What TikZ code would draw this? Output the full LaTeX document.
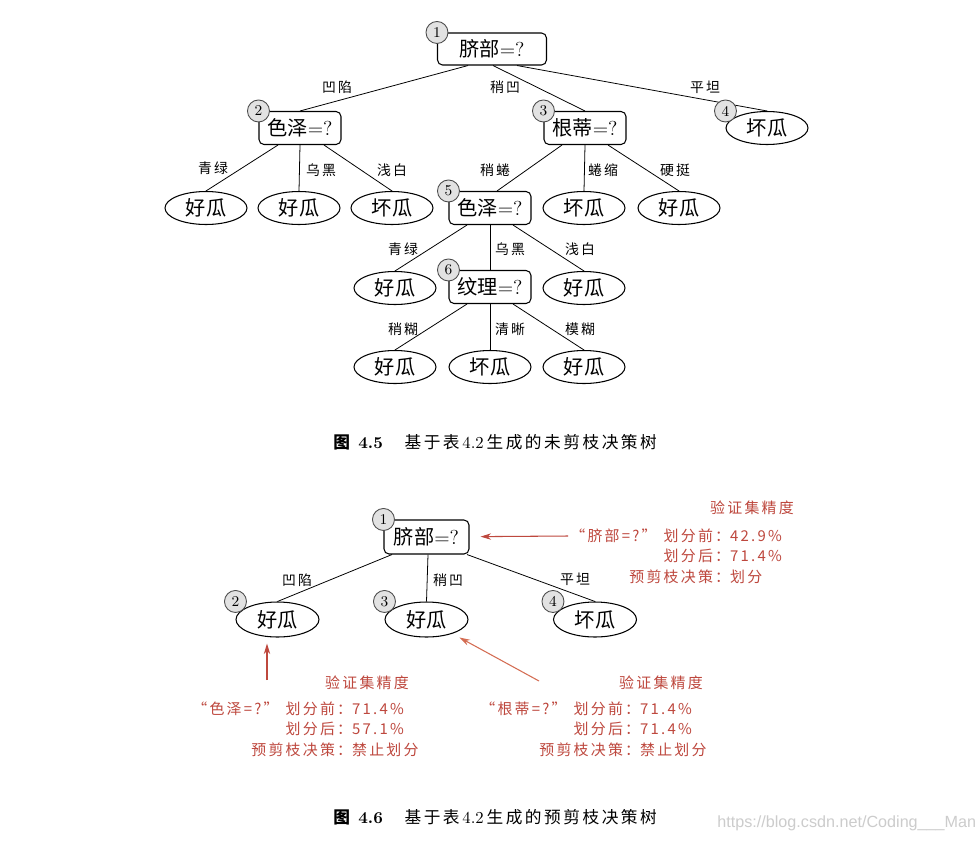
\documentclass[tikz,border=0pt]{standalone}
\usepackage{fontspec}
\newfontfamily\cjk{Noto Sans CJK SC}
\newfontfamily\cjksp[LetterSpace=15]{Noto Sans CJK SC}
\newfontfamily\wmfont{Liberation Sans}
\usepackage{tikz}
\usetikzlibrary{shapes.geometric,arrows.meta}
\definecolor{annored}{RGB}{190,72,62}
\definecolor{annoorange}{RGB}{212,108,82}
\definecolor{numgray}{RGB}{226,226,226}
\tikzset{
    test/.style = {rectangle, rounded corners=0.1cm, draw, line width=0.6pt, minimum width=1.64cm, minimum height=0.66cm, inner sep=0pt, font=\fontsize{11.5}{13}\selectfont},
    leaf/.style = {ellipse, draw, line width=0.6pt, minimum width=1.64cm, minimum height=0.66cm, inner sep=0pt, font=\fontsize{11.5}{13}\cjk},
    num/.style = {circle, draw=black!70, line width=0.5pt, fill=numgray, minimum size=0.44cm, inner sep=0pt, font=\fontsize{8.5}{10}\selectfont},
    lbl/.style = {inner sep=0pt, font=\fontsize{7.9}{9}\cjksp},
    edge/.style = {line width=0.45pt},
    anno/.style = {inner sep=0pt, text=annored, font=\fontsize{8.5}{11.8}\cjksp},
    annoarrow/.style = {draw=annored, line width=0.6pt, -{Stealth[length=6pt,width=3.6pt]}},
    caption/.style = {inner sep=0pt, anchor=west, font=\fontsize{9.5}{11}\selectfont}
}

\begin{document}
\begin{tikzpicture}[x=0.02cm, y=-0.02cm]
    \path[fill=white] (0,0) rectangle (979,845);
    \useasboundingbox (0,0) rectangle (979,845);

    % unpruned tree
    \node [test, minimum width=2.18cm, minimum height=0.64cm] (t1) at (492,49) {{\cjk 脐部}=?};
    \node [test] (t2) at (300,128) {{\cjk 色泽}=?};
    \node [test] (t3) at (585,128) {{\cjk 根蒂}=?};
    \node [leaf] (t4) at (767,128) {坏瓜};
    \node [leaf] (t21) at (206,208) {好瓜};
    \node [leaf] (t22) at (299,208) {好瓜};
    \node [leaf] (t23) at (392,208) {坏瓜};
    \node [test] (t5) at (490,208) {{\cjk 色泽}=?};
    \node [leaf] (t32) at (584,208) {坏瓜};
    \node [leaf] (t33) at (679,208) {好瓜};
    \node [leaf] (t51) at (395,288) {好瓜};
    \node [test] (t6) at (490,287) {{\cjk 纹理}=?};
    \node [leaf] (t53) at (584,288) {好瓜};
    \node [leaf] (t61) at (395,367) {好瓜};
    \node [leaf] (t62) at (490,367) {坏瓜};
    \node [leaf] (t63) at (584,367) {好瓜};

    \draw [edge] ([xshift=-0.48cm]t1.south) -- (t2.north);
    \draw [edge] ([xshift=0.02cm]t1.south) -- (t3.north);
    \draw [edge] ([xshift=0.5cm]t1.south) -- (t4.north);
    \draw [edge] ([xshift=-0.44cm]t2.south) -- (t21.north);
    \draw [edge] (t2.south) -- (t22.north);
    \draw [edge] ([xshift=0.48cm]t2.south) -- (t23.north);
    \draw [edge] ([xshift=-0.46cm]t3.south) -- ([xshift=0.14cm]t5.north);
    \draw [edge] (t3.south) -- (t32.north);
    \draw [edge] ([xshift=0.46cm]t3.south) -- (t33.north);
    \draw [edge] ([xshift=-0.46cm]t5.south) -- (t51.north);
    \draw [edge] (t5.south) -- (t6.north);
    \draw [edge] ([xshift=0.46cm]t5.south) -- (t53.north);
    \draw [edge] ([xshift=-0.46cm]t6.south) -- (t61.north);
    \draw [edge] (t6.south) -- (t62.north);
    \draw [edge] ([xshift=0.46cm]t6.south) -- (t63.north);

    \node [lbl] (l12) at (337,87) {凹陷};
    \node [lbl] (l13) at (505,87) {稍凹};
    \node [lbl] (l14) at (705,87) {平坦};
    \node [lbl] (l21) at (213,168) {青绿};
    \node [lbl] (l22) at (321,170) {乌黑};
    \node [lbl] (l23) at (392,170) {浅白};
    \node [lbl] (l35) at (495,170) {稍蜷};
    \node [lbl] (l32) at (603,170) {蜷缩};
    \node [lbl] (l33) at (675,170) {硬挺};
    \node [lbl] (l51) at (403,249) {青绿};
    \node [lbl] (l56) at (510,249) {乌黑};
    \node [lbl] (l53) at (580,249) {浅白};
    \node [lbl] (l61) at (403,329) {稍糊};
    \node [lbl] (l62) at (510,329) {清晰};
    \node [lbl] (l63) at (580,329) {模糊};

    \node [num] (n1) at (t1.north west) {1};
    \node [num] (n2) at (t2.north west) {2};
    \node [num] (n3) at (t3.north west) {3};
    \node [num] (n4) at (t4.west |- t4.north) {4};
    \node [num] (n5) at (t5.north west) {5};
    \node [num] (n6) at (t6.north west) {6};

    \node [caption] (cap1) at (333,442) {{\bfseries{\cjk 图}\hspace{0.5em}4.5}\hspace{1.3em}{\cjksp 基于表}\,4.2\,{\cjksp 生成的未剪枝决策树}};

    % pre-pruned tree
    \node [test, minimum width=1.7cm, minimum height=0.68cm] (b1) at (426.5,537) {{\cjk 脐部}=?};
    \node [leaf, minimum width=1.66cm, minimum height=0.7cm] (b2) at (277.5,619.5) {好瓜};
    \node [leaf, minimum width=1.66cm, minimum height=0.7cm] (b3) at (426.5,619.5) {好瓜};
    \node [leaf, minimum width=1.66cm, minimum height=0.7cm] (b4) at (595,619.5) {坏瓜};

    \draw [edge] ([xshift=-0.69cm]b1.south) -- (b2.north);
    \draw [edge] ([xshift=0.03cm]b1.south) -- (b3.north);
    \draw [edge] ([xshift=0.81cm]b1.south) -- (b4.north);

    \node [lbl] (m12) at (297,580) {凹陷};
    \node [lbl] (m13) at (448,580) {稍凹};
    \node [lbl] (m14) at (575,579) {平坦};

    \node [num] (k1) at (b1.north west) {1};
    \node [num] (k2) at (b2.west |- b2.north) {2};
    \node [num] (k3) at (b3.west |- b3.north) {3};
    \node [num] (k4) at (b4.west |- b4.north) {4};

    \node [anno] (aAt) at (752,508) {验证集精度};
    \node [anno, anchor=base west] (aA) at (570,541) {\begin{tabular}[t]{@{}r@{}l@{}}“脐部=?”\hspace{4pt}划分前：&42.9\%\\ 划分后：&71.4\%\\ 预剪枝决策：&划分\end{tabular}};
    \node [anno] (aBt) at (367,683) {验证集精度};
    \node [anno, anchor=base west] (aB) at (192,714) {\begin{tabular}[t]{@{}r@{}l@{}}“色泽=?”\hspace{4pt}划分前：&71.4\%\\ 划分后：&57.1\%\\ 预剪枝决策：&禁止划分\end{tabular}};
    \node [anno] (aCt) at (661,683) {验证集精度};
    \node [anno, anchor=base west] (aC) at (480,714) {\begin{tabular}[t]{@{}r@{}l@{}}“根蒂=?”\hspace{4pt}划分前：&71.4\%\\ 划分后：&71.4\%\\ 预剪枝决策：&禁止划分\end{tabular}};

    \coordinate (tailA) at (568,536);
    \coordinate (tailB) at (267,680);
    \coordinate (tailC) at (539,681);
    \draw [annoarrow, shorten >=0.22cm] (tailA) -- (b1);
    \draw [annoarrow, shorten >=0.12cm] (tailB) -- (tailB |- b2.south);
    \draw [annoarrow, draw=annoorange, shorten >=0.16cm] (tailC) -- (b3);

    \node [caption] (cap2) at (333,817) {{\bfseries{\cjk 图}\hspace{0.5em}4.6}\hspace{1.3em}{\cjksp 基于表}\,4.2\,{\cjksp 生成的预剪枝决策树}};
    \node [anchor=west, inner sep=0pt, text=black!20, font=\fontsize{9.2}{11}\wmfont] (wm) at (717,823) {https://blog.csdn.net/Coding\_\_\_Man};
\end{tikzpicture}
\end{document}
